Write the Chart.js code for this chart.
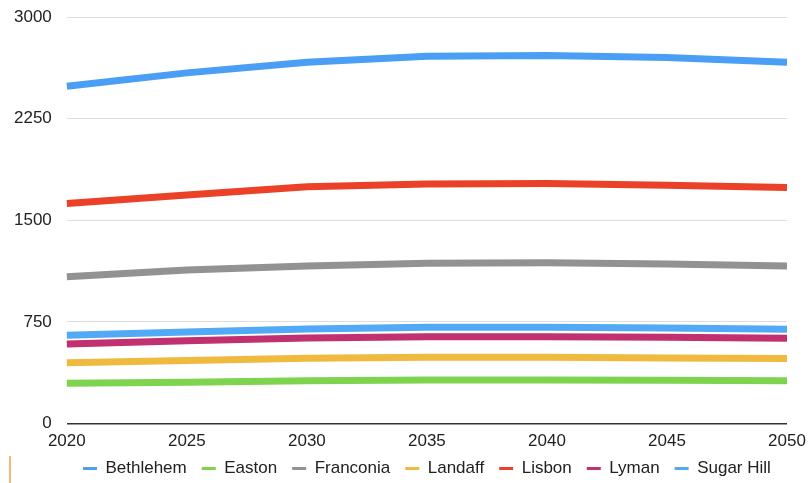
<!DOCTYPE html>
<html>
<head>
<meta charset="utf-8">
<script src="https://cdn.jsdelivr.net/npm/chart.js@4"></script>
<style>
  body { margin: 0; background: #fff; }
  #wrap { position: relative; width: 809px; height: 483px; }
  #mark { position: absolute; left: 9px; top: 456px; width: 2px; height: 27px; background: #f6b77a; }
</style>
</head>
<body>
<div id="wrap">
  <canvas id="myChart"></canvas>
  <div id="mark"></div>
</div>
<script>
const years = ["2020", "2025", "2030", "2035", "2040", "2045", "2050"];

const bethlehem = [2490, 2589, 2667, 2712, 2717, 2702, 2667];
const easton = [298, 305, 317, 322, 322, 320, 317];
const franconia = [1084, 1134, 1163, 1183, 1188, 1178, 1163];
const landaff = [450, 465, 482, 490, 490, 485, 480];
const lisbon = [1625, 1687, 1748, 1768, 1773, 1760, 1743];
const lyman = [588, 612, 632, 642, 642, 637, 630];
const sugarHill = [652, 676, 698, 711, 711, 706, 696];

const yTicks = [0, 750, 1500, 2250, 3000];

function series(label, data, color) {
  return {
    label: label,
    data: data,
    borderColor: color,
    backgroundColor: color,
    borderWidth: 7,
    pointRadius: 0,
    tension: 0,
    fill: false,
  };
}

const font = { family: "'Liberation Sans', Arial, Helvetica, sans-serif", size: 17 };

// legend keeps wide item spacing but takes less height above the text
const legendShift = 7;
const legendTrim = {
  id: "legendTrim",
  beforeLayout(chart) {
    const legend = chart.legend;
    if (!legend || legend._trimmed) return;
    const fit = legend.fit;
    legend.fit = function () {
      fit.call(this);
      this.height -= legendShift;
    };
    legend._trimmed = true;
  },
  afterLayout(chart) {
    chart.legend.top -= legendShift;
  },
};

const ctx = document.getElementById("myChart");

const myChart = new Chart(ctx, {
  type: "line",
  data: {
    labels: years,
    datasets: [
      series("Bethlehem", bethlehem, "#4a9ff5"),
      series("Easton", easton, "#7fd44f"),
      series("Franconia", franconia, "#929292"),
      series("Landaff", landaff, "#f0ba3e"),
      series("Lisbon", lisbon, "#ea4128"),
      series("Lyman", lyman, "#c1306f"),
      series("Sugar Hill", sugarHill, "#52aaf6"),
    ],
  },
  plugins: [legendTrim],
  options: {
    responsive: true,
    maintainAspectRatio: false,
    animation: false,
    layout: { padding: { left: 7, right: 22, top: 0, bottom: -4 } },
    plugins: {
      tooltip: { enabled: false },
      legend: {
        position: "bottom",
        fullSize: false,
        labels: {
          color: "#222",
          font: font,
          boxWidth: 14,
          boxHeight: 3,
          padding: 15,
          generateLabels: (chart) =>
            chart.data.datasets.map((ds, i) => ({
              text: ds.label,
              fillStyle: ds.borderColor,
              strokeStyle: ds.borderColor,
              lineWidth: 0,
              fontColor: "#222",
              hidden: false,
              datasetIndex: i,
            })),
        },
      },
    },
    scales: {
      x: {
        grid: { display: false },
        border: { display: false },
        ticks: { color: "#222", font: font, padding: 0, maxRotation: 0 },
      },
      y: {
        min: 0,
        max: 3000,
        afterBuildTicks: (axis) => {
          axis.ticks = yTicks.map((v) => ({ value: v }));
        },
        border: { display: false },
        grid: {
          drawTicks: true,
          tickLength: 8,
          tickColor: "rgba(0,0,0,0)",
          color: (c) => (c.tick && c.tick.value === 0 ? "#333" : "#dcdcdc"),
          lineWidth: (c) => (c.tick && c.tick.value === 0 ? 1.5 : 1),
        },
        ticks: { color: "#222", font: font, padding: 7, callback: (v) => String(v) },
      },
    },
  },
});
</script>
</body>
</html>
